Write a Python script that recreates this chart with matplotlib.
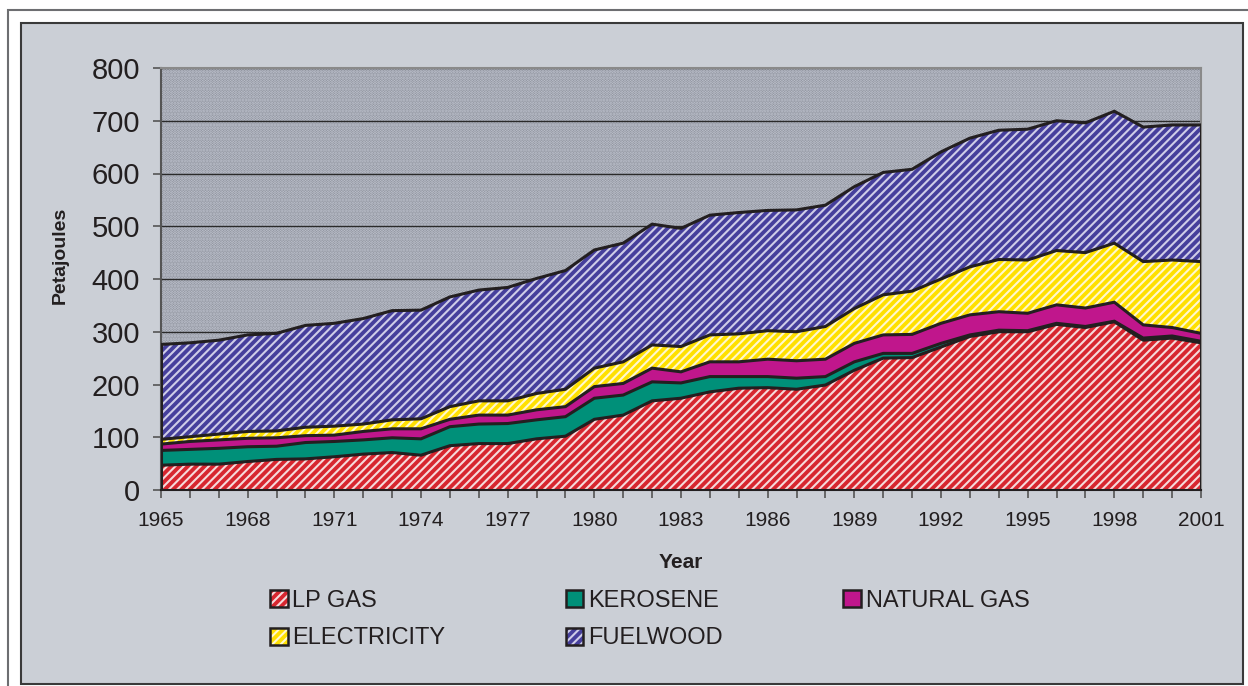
import numpy as np
import matplotlib
matplotlib.use("Agg")
import matplotlib.pyplot as plt
from matplotlib.patches import Patch, Rectangle

plt.rcParams["font.family"] = ["Liberation Sans", "DejaVu Sans"]
plt.rcParams["hatch.linewidth"] = 1.5

# ---- data (Petajoules) ----
years = list(range(1965, 2002))

lp_gas = [47, 49, 49, 54, 58, 59, 63, 68, 71, 66, 84, 88, 88, 97, 102, 134, 142, 169, 174,
          186, 193, 194, 191, 199, 227, 250, 251, 271, 291, 300, 300, 314, 308, 319, 284, 288, 279]
kerosene = [28, 28, 30, 28, 25, 31, 29, 27, 28, 31, 36, 37, 38, 36, 37, 40, 38, 36, 29,
            29, 22, 21, 21, 16, 16, 9, 8, 7, 3, 3, 2, 2, 2, 1, 4, 4, 3]
natural_gas = [12, 15, 16, 16, 16, 13, 12, 16, 17, 19, 14, 17, 16, 19, 19, 22, 22, 26, 21,
               28, 28, 33, 33, 33, 35, 35, 36, 38, 38, 35, 33, 35, 35, 36, 25, 16, 15]
electricity = [9, 9, 11, 13, 13, 16, 17, 14, 17, 19, 24, 27, 27, 31, 33, 35, 41, 44, 48,
               51, 53, 54, 55, 62, 66, 76, 82, 84, 91, 99, 101, 103, 105, 112, 120, 128, 136]
fuelwood = [180, 178, 178, 183, 185, 193, 195, 200, 207, 206, 208, 210, 215, 218, 225, 224, 225, 229, 224,
            227, 230, 228, 231, 230, 231, 232, 231, 241, 244, 245, 248, 246, 246, 250, 255, 256, 259]

labels = ["LP GAS", "KEROSENE", "NATURAL GAS", "ELECTRICITY", "FUELWOOD"]
series = [lp_gas, kerosene, natural_gas, electricity, fuelwood]

# (face colour, hatch colour, hatch)
styles = [
    ("#d7262f", "#f6dadb", "////"),
    ("#009079", "#009079", None),
    ("#c0168c", "#c0168c", None),
    ("#ffe000", "#fff8d0", "////"),
    ("#463f9c", "#cfcde8", "////"),
]
LINE = "#231f20"
BG = "#cbcfd6"

W, H = 1248, 686
fig = plt.figure(figsize=(W / 100, H / 100), dpi=100, facecolor="white")

# outer frame + chart area box
fig.patches.append(Rectangle((8 / W, -0.1), 1.2, 1 - 10 / H + 0.1, transform=fig.transFigure,
                             facecolor="none", edgecolor="#6d6e71", lw=1.5, zorder=-2))
fig.patches.append(Rectangle((21 / W, 1 - 684 / H), (1243 - 21) / W, (684 - 23) / H,
                             transform=fig.transFigure, facecolor=BG, edgecolor="#3a3a3a",
                             lw=1.5, zorder=-1))

ax = fig.add_axes([161 / W, 1 - 490 / H, (1201 - 161) / W, (490 - 68) / H])
ax.set_facecolor("#868a94")
ax.add_patch(Rectangle((0, 0), 1, 1, transform=ax.transAxes, facecolor="none",
                       edgecolor="#c6cad6", hatch="......", lw=0, zorder=0))

x = np.array(years)
base = np.zeros(len(years))
tops = []
for vals, (fc, hc, hatch) in zip(series, styles):
    top = base + np.array(vals)
    ax.fill_between(x, base, top, facecolor=fc, edgecolor=hc, hatch=hatch, lw=0, zorder=2)
    tops.append(top)
    base = top

for top in tops:
    ax.plot(x, top, color=LINE, lw=2.2, zorder=3, solid_joinstyle="miter")
ax.plot([x[0], x[0]], [0, tops[-1][0]], color=LINE, lw=2.2, zorder=3)
ax.plot([x[-1], x[-1]], [0, tops[-1][-1]], color=LINE, lw=2.2, zorder=3)

ax.set_xlim(1965, 2001)
ax.set_ylim(0, 800)
ax.set_yticks(range(0, 801, 100))
ax.yaxis.grid(True, color="#2a2a2a", lw=1.0, zorder=1)
ax.set_axisbelow(True)
ax.set_xticks(years)
ax.set_xticklabels([str(y) if (y - 1965) % 3 == 0 else "" for y in years])

ax.tick_params(axis="y", labelsize=21, length=6, width=1.2, color="#555555",
               pad=9, labelcolor="#231f20")
ax.tick_params(axis="x", labelsize=15, length=6, width=1.2, color="#555555",
               pad=9, labelcolor="#231f20")
for side in ["top", "right"]:
    ax.spines[side].set_color("#8a8a8a")
    ax.spines[side].set_linewidth(1.5)
ax.spines["left"].set_color("#555555")
ax.spines["bottom"].set_color(LINE)
ax.spines["left"].set_linewidth(1.5)
ax.spines["bottom"].set_linewidth(1.5)

fig.text(681 / W, 1 - 562 / H, "Year", ha="center", va="center", fontsize=15,
         fontweight="bold", color="#231f20")
fig.text(60 / W, 1 - 255 / H, "Petajoules", ha="center", va="center", fontsize=14,
         fontweight="bold", rotation=90, color="#231f20")

# legend, row-major order across 3 columns
handles = [(Patch(facecolor=fc, edgecolor=hc, hatch=hatch, lw=0),
            Patch(facecolor="none", edgecolor=LINE, lw=1.8)) for fc, hc, hatch in styles]
order = [0, 3, 1, 4, 2]
leg = fig.legend([handles[i] for i in order], [labels[i] for i in order],
                 loc="upper left", bbox_to_anchor=(258 / W, 1 - 578 / H), ncol=3,
                 frameon=False, fontsize=17, handlelength=0.75, handleheight=0.75,
                 handletextpad=0.2, columnspacing=5.1, labelspacing=0.66, borderpad=0)
for t in leg.get_texts():
    t.set_color("#231f20")

fig.savefig("out.png", dpi=100, facecolor="white")
